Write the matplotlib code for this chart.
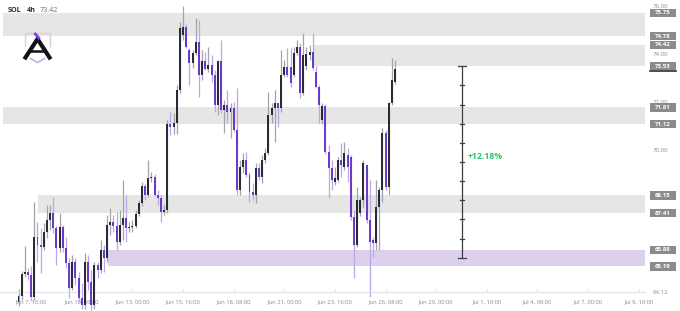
import numpy as np
import matplotlib.pyplot as plt
from matplotlib.patches import Rectangle
from matplotlib.transforms import blended_transform_factory

plt.rcParams['font.family'] = ['Open Sans', 'DejaVu Sans']

# SOL 4h candles, Jun 7 00:00 .. Jun 26 20:00
opens = [63.71, 63.96, 64.87, 64.96, 64.83, 63.92, 66.42, 66.08, 66.00, 66.62,
         67.12, 67.42, 66.79, 65.96, 66.83, 65.96, 65.33, 64.29, 65.37, 64.71,
         63.87, 63.58, 65.37, 64.54, 63.58, 65.25, 65.04, 65.87, 65.54, 66.92,
         67.04, 66.87, 66.21, 66.92, 67.21, 66.79, 66.83, 66.87, 67.37, 67.83,
         68.54, 68.17, 68.87, 68.92, 68.17, 68.04, 67.46, 67.54, 71.12, 71.00,
         71.17, 72.54, 74.83, 75.17, 74.21, 73.67, 74.08, 74.54, 73.17, 73.75,
         73.42, 73.58, 73.17, 71.92, 73.75, 71.71, 71.92, 71.62, 71.79, 70.87,
         68.37, 69.33, 69.62, 69.00, 68.29, 68.17, 69.29, 68.92, 69.62, 69.92,
         71.50, 71.79, 72.00, 71.79, 73.17, 73.50, 73.50, 73.17, 74.08, 74.33,
         72.42, 73.54, 74.00, 74.12, 73.29, 72.67, 71.29, 71.87, 69.96, 69.29,
         68.71, 68.79, 69.62, 69.33, 69.83, 69.75, 67.25, 66.08, 67.42, 67.96,
         69.42, 67.12, 66.29, 66.17, 67.67, 68.37, 70.75, 68.50, 72.00, 72.87]
highs = [64.25, 65.00, 66.04, 65.12, 65.21, 67.87, 67.04, 66.79, 67.00, 67.75,
         67.75, 68.08, 66.87, 67.42, 66.92, 66.42, 65.54, 65.67, 65.54, 64.96,
         64.50, 65.75, 65.67, 65.04, 65.37, 65.37, 66.29, 66.08, 67.33, 67.62,
         67.33, 67.46, 67.54, 68.79, 68.17, 67.04, 67.12, 67.54, 67.96, 68.71,
         68.62, 69.62, 69.12, 69.04, 68.37, 68.17, 67.75, 71.29, 71.62, 71.58,
         72.75, 75.37, 76.04, 75.29, 74.29, 74.21, 75.54, 75.46, 74.21, 74.12,
         74.33, 74.00, 73.37, 73.79, 74.62, 72.12, 72.54, 72.00, 72.04, 72.62,
         69.62, 69.92, 69.96, 69.12, 68.67, 69.50, 69.50, 69.83, 70.12, 72.46,
         72.00, 72.54, 72.00, 74.21, 73.79, 74.29, 74.29, 74.33, 74.62, 74.50,
         74.92, 74.33, 74.42, 74.92, 73.54, 72.75, 72.00, 71.96, 70.25, 69.62,
         69.33, 69.75, 70.33, 70.37, 70.12, 69.83, 67.54, 68.50, 68.08, 69.62,
         69.42, 68.79, 66.42, 68.79, 68.50, 70.96, 70.87, 72.04, 73.87, 73.79]
lows = [63.54, 63.79, 64.75, 64.62, 63.75, 63.79, 65.37, 64.92, 65.87, 66.37,
        66.71, 66.58, 65.25, 65.79, 65.79, 65.12, 63.87, 64.21, 64.42, 63.71,
        63.42, 63.42, 64.21, 63.37, 63.42, 64.71, 64.92, 64.96, 65.37, 66.50,
        66.62, 65.87, 66.08, 66.29, 66.21, 66.62, 66.62, 66.79, 67.29, 67.71,
        67.96, 68.08, 68.71, 68.12, 67.75, 67.04, 67.33, 67.42, 70.67, 70.71,
        70.71, 72.42, 74.62, 74.29, 72.75, 73.46, 74.00, 72.25, 72.96, 73.37,
        73.29, 72.87, 71.62, 71.50, 71.58, 70.75, 71.17, 70.54, 70.79, 68.17,
        68.17, 69.08, 68.92, 67.87, 67.96, 67.83, 68.79, 68.67, 69.50, 69.83,
        71.17, 70.37, 71.00, 71.62, 73.08, 73.08, 72.67, 73.08, 74.00, 72.21,
        72.33, 73.37, 73.79, 73.37, 72.62, 71.17, 71.12, 69.87, 68.04, 68.37,
        68.58, 68.71, 68.92, 69.21, 68.71, 67.12, 64.71, 66.00, 67.29, 67.67,
        67.00, 63.92, 65.58, 65.87, 65.87, 67.87, 68.37, 68.17, 71.92, 72.79]
closes = [63.96, 64.87, 64.96, 64.83, 63.92, 66.42, 66.08, 66.00, 66.62, 67.12,
          67.42, 66.79, 65.96, 66.83, 65.96, 65.33, 64.29, 65.37, 64.71, 63.87,
          63.58, 65.37, 64.54, 63.58, 65.25, 65.04, 65.87, 65.54, 66.92, 67.04,
          66.87, 66.21, 66.92, 67.21, 66.79, 66.83, 66.87, 67.37, 67.83, 68.54,
          68.17, 68.87, 68.92, 68.17, 68.04, 67.46, 67.54, 71.12, 71.00, 71.17,
          72.54, 75.12, 75.17, 74.33, 73.67, 74.08, 74.54, 73.17, 73.75, 73.42,
          73.58, 73.17, 71.92, 73.75, 71.71, 71.92, 71.62, 71.79, 70.87, 68.37,
          69.33, 69.62, 69.00, 68.29, 68.17, 69.29, 68.92, 69.62, 69.92, 71.50,
          71.79, 72.00, 71.79, 73.17, 73.50, 73.17, 72.83, 74.08, 74.33, 72.42,
          74.00, 74.04, 74.12, 73.46, 72.67, 71.92, 71.87, 69.96, 69.29, 68.79,
          68.87, 69.62, 69.42, 69.92, 69.33, 67.25, 66.08, 67.96, 67.96, 69.50,
          67.12, 66.21, 66.17, 67.67, 68.37, 70.75, 68.50, 72.00, 72.96, 73.42]

date_labels = ["Jun 7, 16:00", "Jun 10, 08:00", "Jun 13, 00:00", "Jun 15, 16:00",
               "Jun 18, 08:00", "Jun 21, 00:00", "Jun 23, 16:00", "Jun 26, 08:00",
               "Jun 29, 00:00", "Jul 1, 16:00", "Jul 4, 08:00", "Jul 7, 00:00",
               "Jul 9, 16:00"]
price_ticks = [76.0, 74.0, 72.0, 70.0]
scale_low = 64.12
zone_tops = [75.75, 74.42, 71.81, 68.15, 65.88]
zone_bottoms = [74.78, 73.53, 71.12, 67.41, 65.19]
measure_low = 65.545
measure_high = 73.53
measure_text = "+12.18%"

UP_BODY, DN_BODY = '#272b37', '#6a3bc7'
UP_WICK, DN_WICK = '#a2a4ab', '#bba6e6'
GRID_TXT = '#8a8d96'

fig = plt.figure(figsize=(6.8, 3.11), dpi=100)
ax = fig.add_axes([0, 19 / 311, 645 / 680, 292 / 311])
ax.set_xlim(-5.85, 198)
ax.set_ylim(scale_low, 76.29)

# zones
zone_starts = [-4.9, 93.1, -4.9, 6.2, 28.3]
zone_colors = ['#e6e6e6', '#e6e6e6', '#e6e6e6', '#e6e6e6', '#dcd0ec']
for top, bot, st, col in zip(zone_tops, zone_bottoms, zone_starts, zone_colors):
    ax.fill_between([st, 198], bot, top, color=col, lw=0, zorder=0)

# candles
o = np.array(opens)
h = np.array(highs)
l = np.array(lows)
c = np.array(closes)
x = np.arange(len(c))
up = c >= o
wk = ax.vlines(x, l, h, colors=np.where(up, UP_WICK, DN_WICK), lw=0.9, zorder=2)
wk.set_clip_on(False)
bars = ax.bar(x, np.maximum(np.abs(c - o), 0.05), bottom=np.minimum(o, c), width=0.62,
              color=np.where(up, UP_BODY, DN_BODY), lw=0, zorder=3)
for p in bars:
    p.set_clip_on(False)

# measure tool
mx = 140.2
ax.plot([mx, mx], [measure_low, measure_high], color='#3a3e49', lw=0.9, zorder=4)
for k, lev in enumerate(np.linspace(measure_low, measure_high, 11)):
    half = 1.2 if k in (0, 10) else 0.6
    ax.plot([mx - half, mx + half], [lev, lev], color='#3a3e49', lw=0.9, zorder=4)
ax.text(142.0, 69.75, measure_text, color='#2bc46b', fontsize=6.3, fontweight='bold',
        va='center', ha='left', zorder=5)

# axes styling
for s in ['top', 'right', 'left']:
    ax.spines[s].set_visible(False)
ax.spines['bottom'].set_color('#e0e3eb')
ax.spines['bottom'].set_linewidth(0.8)
ax.set_yticks([])
ax.set_xticks([4 + 16 * k for k in range(len(date_labels))], date_labels)
ax.tick_params(axis='x', direction='in', length=2, color='#e0e3eb', labelsize=4.2,
               labelcolor=GRID_TXT, pad=5.0)
ax.patch.set_visible(False)

# price scale
tr = blended_transform_factory(ax.transAxes, ax.transData)
for p in price_ticks + [scale_low]:
    ax.text(1.012, p, f"{p:.2f}", transform=tr, fontsize=4.4, color=GRID_TXT,
            va='center', ha='left', clip_on=False, zorder=5)
tag_vals = zone_tops + zone_bottoms
for v in tag_vals:
    ax.add_patch(Rectangle((1.0078, v - 0.177), 0.0403, 0.354, transform=tr,
                           facecolor='#8b8b8d', edgecolor='none', clip_on=False, zorder=6))
    ax.text(1.0279, v, f"{v:.2f}", transform=tr, fontsize=4.4, color='white',
            fontweight='bold', va='center', ha='center', clip_on=False, zorder=7)
ax.plot([1.0078, 1.0481], [measure_high - 0.2] * 2, transform=tr, color='#2b2f3a',
        lw=1.2, clip_on=False, zorder=7)

# header + logo overlay (pixel coords)
ov = fig.add_axes([0, 0, 1, 1], zorder=10)
ov.set_xlim(0, 680)
ov.set_ylim(311, 0)
ov.axis('off')
ov.text(8, 11, "SOL", fontsize=5.2, fontweight='bold', color='#2a2e39', va='center')
ov.text(26.5, 11, "4h", fontsize=5.2, fontweight='bold', color='#2a2e39', va='center')
ov.text(40, 11, "73.42", fontsize=5.2, color='#6b6e78', va='center')
ov.plot([24.5, 24.5, 49.5, 49.5], [46, 33, 33, 46], color='#d3d3d7', lw=1.0)
ov.plot([25.5, 37.5, 49.5], [57.5, 39, 57.5], color='#111217', lw=3.0,
        solid_joinstyle='miter')
ov.plot([31, 44], [50.5, 50.5], color='#111217', lw=1.8)
ov.plot([35.3, 38.8], [34, 38], color='#7b3fe4', lw=2.0)
ov.plot([30.5, 37.5, 44.5], [58.5, 62.5, 58.5], color='#c3b2e8', lw=1.3)

fig.savefig('out.png', dpi=100)
